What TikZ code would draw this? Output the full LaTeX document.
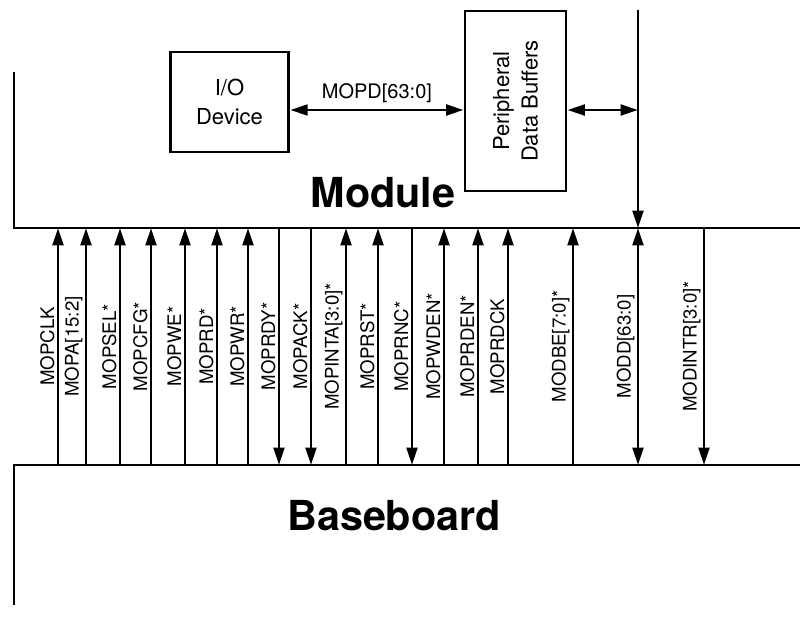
\documentclass[tikz,border=0pt]{standalone}
\usepackage{fontspec}
\setmainfont{TeX Gyre Heros}
\usetikzlibrary{arrows.meta, positioning}

\begin{document}
\begin{tikzpicture}[
    x=0.75pt, y=0.75pt,
    wire/.style={draw=black, line width=2.2pt},
    line/.style={wire, -{Triangle[length=13pt, width=8pt]}},
    dline/.style={wire, {Triangle[length=13pt, width=8pt]}-{Triangle[length=13pt, width=8pt]}},
    sigup/.style={line},
    sigdown/.style={wire, {Triangle[length=13pt, width=8pt]}-},
    sigboth/.style={dline},
    block/.style={rectangle, draw=black, line width=2.2pt, inner sep=0pt, align=center, font=\fontsize{16.5}{21.5}\selectfont},
    board/.style={anchor=base, font=\fontsize{31}{36}\selectfont\bfseries},
    sig/.style={midway, rotate=90, anchor=south, inner sep=1.5pt, font=\fontsize{14}{16}\selectfont}
]
    \useasboundingbox (0,0) rectangle (800,-622);

    % outline of the module and the baseboard
    \coordinate (mtop) at (14,-72);
    \coordinate (mcorner) at (14,-228);
    \coordinate (mright) at (800,-228);
    \coordinate (bcorner) at (14,-465);
    \coordinate (bright) at (800,-465);
    \coordinate (bbottom) at (14,-605);
    \draw[wire] (mtop) -- (mcorner) -- (mright);
    \draw[wire] (bbottom) -- (bcorner) -- (bright);

    \node[board] (module) at (383,-207) {Module};
    \node[board] (baseboard) at (394,-530) {Baseboard};

    % blocks on the module
    \node[block, minimum width=89pt, minimum height=75pt] (io) at (229.5,-102) {I/O\\Device};
    \node[block, rotate=90, minimum width=135pt, minimum height=75.75pt] (pbuf) at (515.5,-101) {Peripheral\\Data Buffers};

    \coordinate (mopd) at (0,-110);
    \coordinate (dtop) at (638,-10);
    \coordinate (dmod) at (638,-228);

    % Connectors
    \draw[dline] (io.east |- mopd) -- node[above, inner sep=4pt, font=\fontsize{15}{18}\selectfont] (mopdlabel) {MOPD[63:0]} (pbuf.north |- mopd);
    \draw[dline] (pbuf.south |- mopd) -- (dtop |- mopd);
    \draw[line] (dtop) -- (dmod);

    % signals between module and baseboard
    \foreach \x/\dir/\name [count=\i] in {
        58/sigup/MOPCLK, 86/sigup/MOPA[15:2], 120/sigup/MOPSEL*, 151/sigup/MOPCFG*,
        185/sigup/MOPWE*, 217/sigup/MOPRD*, 248/sigup/MOPWR*, 279/sigdown/MOPRDY*,
        311/sigdown/MOPACK*, 346/sigup/MOPINTA[3:0]*, 378/sigup/MOPRST*,
        412/sigdown/MOPRNC*, 444/sigup/MOPWDEN*, 478/sigup/MOPRDEN*,
        508/sigup/MOPRDCK, 573/sigup/MODBE[7:0]*, 638/sigboth/MODD[63:0],
        704/sigdown/MODINTR[3:0]*}
    {
        \coordinate (m\i) at (\x,-228);
        \coordinate (b\i) at (\x,-465);
        \draw[\dir] (b\i) -- node[sig] (s\i) {\name} (m\i);
    }
\end{tikzpicture}
\end{document}
